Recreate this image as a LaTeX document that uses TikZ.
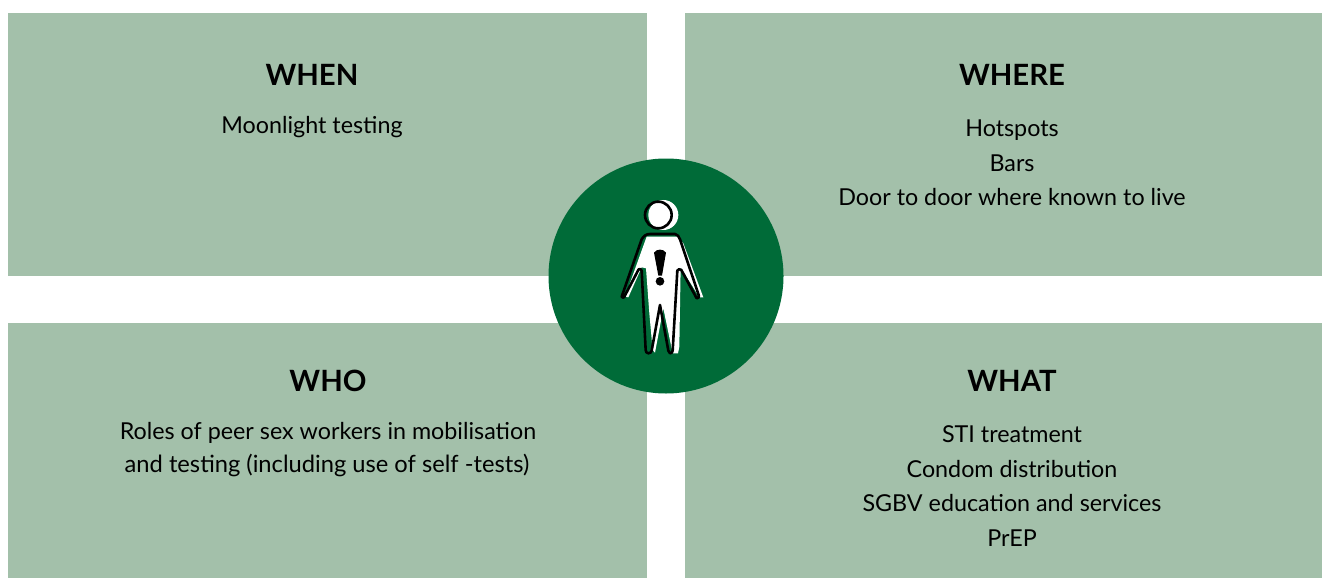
\documentclass[tikz,border=0pt]{standalone}
\usepackage{fontspec}
\setmainfont{Lato}
\definecolor{panelgreen}{HTML}{A3C0AA}
\definecolor{darkgreen}{HTML}{006B38}
\tikzset{
  panel/.style={fill=panelgreen,draw=none},
  heading/.style={anchor=base,inner sep=0pt,font=\fontsize{29.3}{34}\selectfont\bfseries},
  bodytext/.style={anchor=base,inner sep=0pt,font=\fontsize{23.3}{28}\selectfont},
  widebody/.style={anchor=base,inner sep=0pt,font=\fontsize{23.7}{28}\selectfont},
  figline/.style={line width=2.6pt,draw=black,line join=round,line cap=round}
}
\begin{document}
\begin{tikzpicture}[x=1pt,y=-1pt]
\useasboundingbox (0,0) rectangle (1322,578);
\fill[panel] (8,13) rectangle (647,276);
\fill[panel] (685,13) rectangle (1322,276);
\fill[panel] (8,323) rectangle (647,578);
\fill[panel] (685,323) rectangle (1322,578);
\node[circle,fill=darkgreen,minimum size=235pt,inner sep=0pt] (hub) at (666,276) {};
\node[heading] (when) at (312,85) {WHEN};
\node[bodytext] (when1) at (312,133) {Moonlight testing};
\node[heading] (where) at (1012,85) {WHERE};
\node[bodytext] (where1) at (1012,136) {Hotspots};
\node[bodytext] (where2) at (1012,171) {Bars};
\node[bodytext] (where3) at (1012,205) {Door to door where known to live};
\node[heading] (who) at (328,391) {WHO};
\node[bodytext] (who1) at (328,439) {Roles of peer sex workers in mobilisation};
\node[widebody] (who2) at (327,472) {and testing (including use of self -tests)};
\node[heading] (what) at (1012,391) {WHAT};
\node[bodytext] (what1) at (1012,442) {STI treatment};
\node[bodytext] (what2) at (1012,477) {Condom distribution};
\node[bodytext] (what3) at (1012,511) {SGBV education and services};
\node[bodytext] (what4) at (1012,546) {PrEP};
% person icon, drawn directly
\begin{scope}[shift={(600,180)},x=0.3333pt,y=-0.3333pt]
  \fill[white] (190,105) circle (45);
  \draw[figline] (175,105) circle (40);
  \fill[white] (140,170) -- (232,170) -- (250,190) -- (310,352) -- (298,352) -- (242,262)
     -- (238,500) -- (234,520) -- (218,520) -- (190,385) -- (165,518) -- (158,510) -- (148,400)
     -- (138,265) -- (125,262) -- (85,352) -- (75,350) -- cycle;
  \draw[figline] (150,162) -- (225,162) to[out=0,in=120] (240,178) -- (297,348)
     to[out=-70,in=0] (290,355) -- (244,270) to[out=120,in=90] (232,272)
     -- (218,512) to[out=-90,in=0] (210,520) -- (205,512) -- (180,375) -- (155,512)
     to[out=-100,in=0] (145,520) to[out=180,in=-90] (137,510) -- (125,272)
     to[out=90,in=60] (116,268) -- (72,352) to[out=-120,in=-60] (65,350) -- (125,178)
     to[out=60,in=180] cycle;
  \fill[black] (162,218) to[out=60,in=120] (198,218) -- (186,287) -- (175,287) -- cycle;
  \fill[black] (180,304) circle (13);
\end{scope}
\end{tikzpicture}
\end{document}
